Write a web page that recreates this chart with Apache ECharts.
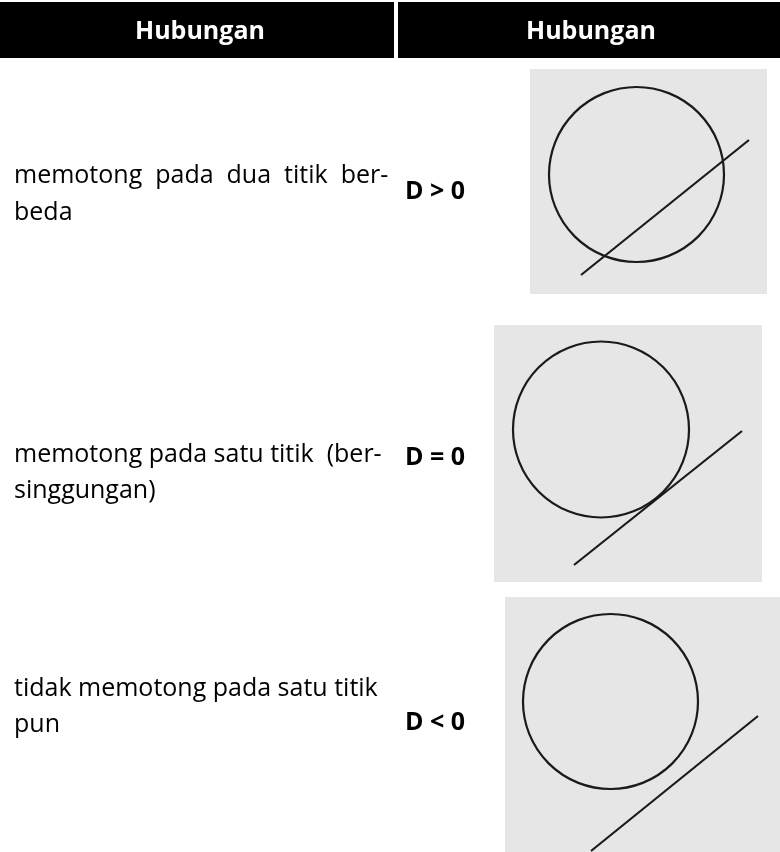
<!DOCTYPE html>
<html><head><meta charset="utf-8">
<script src="https://cdn.jsdelivr.net/npm/echarts@6/dist/echarts.min.js"></script>
<style>html,body{margin:0;padding:0;background:#fff}#c{width:780px;height:852px}</style>
</head><body><div id="c"></div>
<script>
// Header labels
var headers = ['Hubungan', 'Hubungan'];
// Row descriptions (two lines each) and discriminant conditions
var descLine1 = ['memotong  pada  dua  titik  ber-', 'memotong pada satu titik  (ber-', 'tidak memotong pada satu titik'];
var descLine2 = ['beda', 'singgungan)', 'pun'];
var conditions = ['D > 0', 'D = 0', 'D < 0'];
// Panel extents in data units [width, height]
var panelSize = [[237, 225], [268, 257], [275, 255]];
// Circles [cx, cy, r] in panel data units
var circles = [[106.5, 119.5, 87.5], [107, 152.5, 88], [105.5, 150.5, 87.5]];
// Line segments [[x1,y1],[x2,y2]]
var lines = [
  [[51, 19], [219, 154]],
  [[80, 17], [248, 151]],
  [[86, 1], [253, 136]]
];

// layout (pixels)
var panelBox = [[530, 69], [494, 325], [505, 597]];
var descY = [[176, 213], [455, 491], [689, 725]];
var condY = [192, 458, 723];
var font = '"Open Sans", "Noto Sans", sans-serif';

var grids = [], xAxes = [], yAxes = [], series = [];
for (var i = 0; i < 3; i++) {
  grids.push({left: panelBox[i][0], top: panelBox[i][1], width: panelSize[i][0], height: panelSize[i][1],
    show: true, backgroundColor: '#e6e6e6', borderWidth: 0});
  xAxes.push({type: 'value', gridIndex: i, min: 0, max: panelSize[i][0], show: false});
  yAxes.push({type: 'value', gridIndex: i, min: 0, max: panelSize[i][1], show: false});
  series.push({
    type: 'custom', xAxisIndex: i, yAxisIndex: i, data: [circles[i]], silent: true,
    renderItem: function (params, api) {
      var c = api.coord([api.value(0), api.value(1)]);
      var r = api.size([api.value(2), api.value(2)])[0];
      return {type: 'circle', shape: {cx: c[0], cy: c[1], r: r},
        style: {fill: 'none', stroke: '#1a1a1a', lineWidth: 2.2}};
    }
  });
  series.push({
    type: 'line', xAxisIndex: i, yAxisIndex: i, data: lines[i], symbol: 'none', silent: true,
    lineStyle: {color: '#1a1a1a', width: 2.2}
  });
}

var graphics = [
  {type: 'rect', shape: {x: 0, y: 2, width: 394, height: 56}, style: {fill: '#000'}},
  {type: 'rect', shape: {x: 398, y: 2, width: 382, height: 56}, style: {fill: '#000'}},
  {type: 'text', x: 200, y: 32, style: {text: headers[0], fill: '#fff', font: 'bold 25px ' + font, textAlign: 'center', textVerticalAlign: 'middle'}},
  {type: 'text', x: 591, y: 32, style: {text: headers[1], fill: '#fff', font: 'bold 25px ' + font, textAlign: 'center', textVerticalAlign: 'middle'}}
];
for (var j = 0; j < 3; j++) {
  graphics.push({type: 'text', x: 14, y: descY[j][0], style: {text: descLine1[j], fill: '#000', font: '25px ' + font, textVerticalAlign: 'middle'}});
  graphics.push({type: 'text', x: 14, y: descY[j][1], style: {text: descLine2[j], fill: '#000', font: '25px ' + font, textVerticalAlign: 'middle'}});
  graphics.push({type: 'text', x: 405, y: condY[j], style: {text: conditions[j], fill: '#000', font: 'bold 25px ' + font, textVerticalAlign: 'middle'}});
}

var chart = echarts.init(document.getElementById('c'));
chart.setOption({
  animation: false,
  grid: grids, xAxis: xAxes, yAxis: yAxes, series: series,
  graphic: graphics
});
</script></body></html>
